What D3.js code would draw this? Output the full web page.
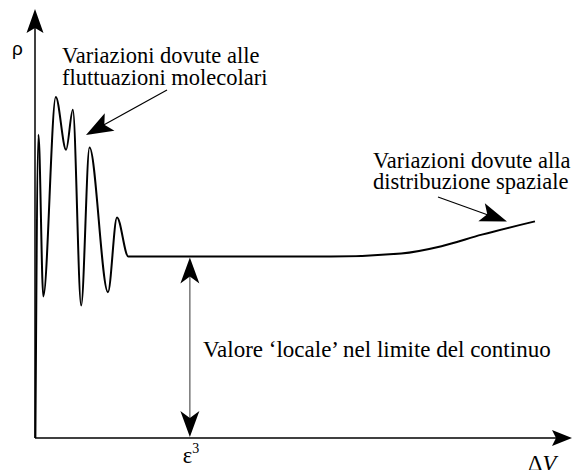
<!DOCTYPE html>
<html><head><meta charset="utf-8">
<script src="https://cdn.jsdelivr.net/npm/d3@7"></script>
</head>
<body style="margin:0">
<script>
// ---- data (arbitrary units: ΔV on x, ρ on y) ----
const dV  = [0.07, 0.65, 1.55, 3.87, 5.79, 7.05, 8.60, 10.15, 13.59, 15.27, 17.38, 23.4, 55.1, 68.2, 75.7, 83.2, 93.1];
const rho = [0,    70.7, 33.0, 79.5, 67.2, 76.5, 30.9, 67.7,  34.0,  51.4,  42.3,  42.3, 42.3, 43.0, 44.7, 47.4, 50.5];
const epsX = 28.84;           // position of ε³ on the ΔV axis
const localRho = 42.3;        // the 'local' continuum value
const tickLabels = ["ε", "3"];
const axisLabels = ["ρ", "ΔV"];
const molText = ["Variazioni dovute alle", "fluttuazioni molecolari"];
const spaText = ["Variazioni dovute alla", "distribuzione spaziale"];
const locText = "Valore ‘locale’ nel limite del continuo";

const SERIF = "'Liberation Serif', monospace";
const SANS = "'Liberation Sans', monospace";

const W = 575, H = 470;
const svg = d3.select("body").append("svg").attr("width", W).attr("height", H)
  .attr("font-family", SERIF);

const x = d3.scaleLinear().domain([0, 100]).range([35, 572]);
const y = d3.scaleLinear().domain([0, 100]).range([438, 9]);

function arrowHead(g, tx, ty, dx, dy, L, Wd, N, fill) {
  const len = Math.hypot(dx, dy), ux = dx / len, uy = dy / len;
  const px = -uy, py = ux;
  const bx = tx - ux * L, by = ty - uy * L;
  const nx = tx - ux * (L - N), ny = ty - uy * (L - N);
  g.append("path")
    .attr("d", `M${tx},${ty}L${bx + px * Wd},${by + py * Wd}L${nx},${ny}L${bx - px * Wd},${by - py * Wd}Z`)
    .attr("fill", fill || "#000");
}
function txt(sel, family, size) {
  return sel.attr("font-family", family).style("font-family", family).attr("font-size", size).attr("fill", "#000");
}

// axes
const axes = svg.append("g");
axes.append("line").attr("x1", x(0)).attr("y1", y(0)).attr("x2", x(0)).attr("y2", y(100) + 10)
  .attr("stroke", "#000").attr("stroke-width", 1.5);
arrowHead(axes, x(0), y(100), 0, -1, 24, 8.5, 5);
axes.append("line").attr("x1", x(0)).attr("y1", y(0)).attr("x2", x(100) - 10).attr("y2", y(0))
  .attr("stroke", "#000").attr("stroke-width", 1.5);
arrowHead(axes, x(100), y(0), 1, 0, 20, 8, 4);

// curve
const pts = dV.map((d, i) => [d, rho[i]]);
const line = d3.line().x(d => x(d[0])).y(d => y(d[1])).curve(d3.curveMonotoneX);
svg.append("path").attr("d", line(pts)).attr("fill", "none").attr("stroke", "#000")
  .attr("stroke-width", 2).attr("stroke-linejoin", "round");

// double arrow at ε³
const ex = x(epsX);
svg.append("line").attr("x1", ex).attr("x2", ex).attr("y1", y(localRho) + 15).attr("y2", y(0) - 15)
  .attr("stroke", "#555").attr("stroke-width", 1.2);
arrowHead(svg, ex, y(localRho) + 1, 0, -1, 26, 9.5, 7);
arrowHead(svg, ex, y(0) - 1, 0, 1, 26, 9.5, 7);

// ε³ tick label
const et = txt(svg.append("text"), SERIF, 22.5).attr("x", ex - 7).attr("y", 463);
et.append("tspan").text(tickLabels[0]);
et.append("tspan").attr("dy", -10).attr("font-size", 14).text(tickLabels[1]);

// axis labels
txt(svg.append("text"), SANS, 19).attr("x", 12).attr("y", 55).text(axisLabels[0]);
const dl = txt(svg.append("text"), SERIF, 22.5).attr("x", 528).attr("y", 471);
dl.append("tspan").text(axisLabels[1][0]);
dl.append("tspan").attr("font-style", "italic").text(axisLabels[1].slice(1));

// annotations
function block(lines, x0, y0, lh) {
  lines.forEach((s, i) => txt(svg.append("text"), SERIF, 22.5).attr("x", x0).attr("y", y0 + i * lh).text(s));
}
block(molText, 62, 63, 22);
block(spaText, 373, 168, 21);
txt(svg.append("text"), SERIF, 23).attr("x", 203).attr("y", 357).text(locText);

// annotation arrows
svg.append("line").attr("x1", 167).attr("y1", 90).attr("x2", 100).attr("y2", 127)
  .attr("stroke", "#000").attr("stroke-width", 1.2);
arrowHead(svg, 86, 135, -81, 45, 27, 10, 6);
svg.append("line").attr("x1", 438).attr("y1", 197).attr("x2", 495).attr("y2", 217.5)
  .attr("stroke", "#000").attr("stroke-width", 1.2);
arrowHead(svg, 507, 221.5, 69, 25, 27, 9.5, 6);
</script>
</body></html>
